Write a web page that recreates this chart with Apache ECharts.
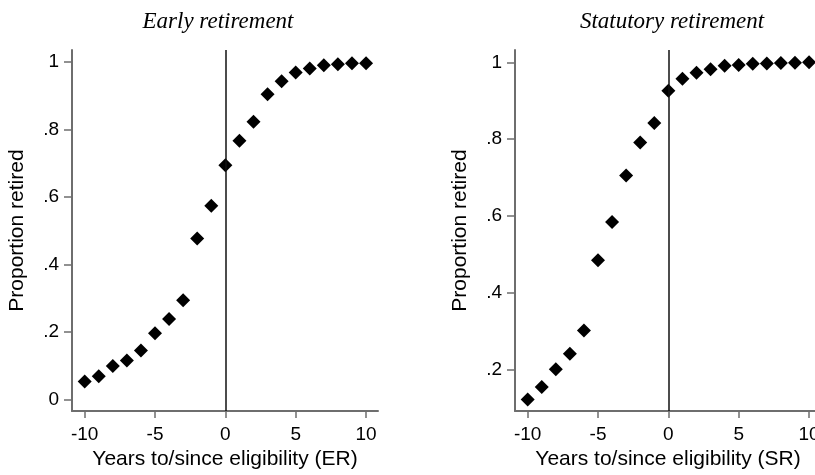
<!DOCTYPE html>
<html><head><meta charset="utf-8">
<script src="https://cdn.jsdelivr.net/npm/echarts@6/dist/echarts.min.js"></script>
<style>html,body{margin:0;padding:0;background:#fff;overflow:hidden;width:815px;height:475px}#c{width:840px;height:475px}</style>
</head><body><div id="c"></div>
<script>
const years = [-10,-9,-8,-7,-6,-5,-4,-3,-2,-1,0,1,2,3,4,5,6,7,8,9,10];
const earlyRetired = [0.053,0.068,0.099,0.115,0.145,0.196,0.238,0.294,0.477,0.574,0.694,0.767,0.823,0.905,0.943,0.969,0.981,0.991,0.994,0.997,0.997];
const statutoryRetired = [0.122,0.155,0.201,0.241,0.302,0.485,0.584,0.705,0.791,0.842,0.926,0.957,0.973,0.982,0.991,0.993,0.996,0.997,0.998,0.999,1.0];
const xTicks = [-10,-5,0,5,10];
const yTicksLeft = [0,0.2,0.4,0.6,0.8,1];
const yTicksRight = [0.2,0.4,0.6,0.8,1];
const panelTitles = ['Early retirement','Statutory retirement'];
const xNames = ['Years to/since eligibility (ER)','Years to/since eligibility (SR)'];
const yName = 'Proportion retired';

const fmtY = v => { const r = Math.round(v*10)/10; if (r===0) return '0'; if (r===1) return '1'; return String(r).replace(/^0/,''); };
const font = 'Liberation Sans, Arial, sans-serif';
const axisCol = '#6e6e6e';

function xAxis(i){
  return {gridIndex:i,type:'value',min:-10.9,max:10.85,name:xNames[i],nameLocation:'middle',nameGap:36,
    nameTextStyle:{fontFamily:font,fontSize:21,color:'#000'},
    axisLine:{onZero:false,lineStyle:{color:axisCol,width:2}},
    axisTick:{customValues:xTicks,length:7,lineStyle:{color:axisCol,width:1.5}},
    axisLabel:{customValues:xTicks,fontFamily:font,fontSize:19,color:'#000',margin:14},
    splitLine:{show:false}};
}
function yAxis(i,min,max,ticks){
  return {gridIndex:i,type:'value',min:min,max:max,name:yName,nameLocation:'middle',nameGap:44,
    nameTextStyle:{fontFamily:font,fontSize:21,color:'#000'},
    axisLine:{show:true,onZero:false,lineStyle:{color:axisCol,width:2}},
    axisTick:{show:true,customValues:ticks,length:8,lineStyle:{color:axisCol,width:1.5}},
    axisLabel:{customValues:ticks,fontFamily:font,fontSize:19,color:'#000',margin:13,formatter:fmtY},
    splitLine:{show:false}};
}
function series(i,data){
  return {type:'scatter',xAxisIndex:i,yAxisIndex:i,symbol:'diamond',symbolSize:14,
    itemStyle:{color:'#000',opacity:1},
    data:years.map((x,k)=>[x,data[k]]),
    markLine:{silent:true,symbol:['none','none'],label:{show:false},
      lineStyle:{color:'#111',width:1.5,type:'solid'},data:[{xAxis:0}]}};
}
const titleStyle = {fontFamily:'Liberation Serif, Times New Roman, serif',fontStyle:'italic',fontWeight:'normal',fontSize:23,color:'#000'};
const chart = echarts.init(document.getElementById('c'),null,{renderer:'canvas'});
chart.setOption({
  animation:false,
  title:[
    {text:panelTitles[0],left:213,top:5,textAlign:'center',textStyle:titleStyle},
    {text:panelTitles[1],left:667,top:5,textAlign:'center',textStyle:titleStyle}
  ],
  grid:[
    {left:72,top:50,width:306,height:363},
    {left:515,top:50,width:306,height:363}
  ],
  xAxis:[xAxis(0),xAxis(1)],
  yAxis:[yAxis(0,-0.035,1.036,yTicksLeft),yAxis(1,0.092,1.032,yTicksRight)],
  series:[series(0,earlyRetired),series(1,statutoryRetired)]
});
</script></body></html>
